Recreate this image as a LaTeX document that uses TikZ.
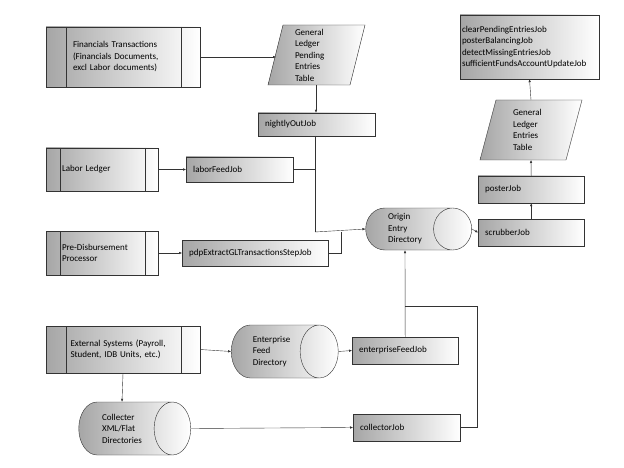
\documentclass[tikz,border=0pt]{standalone}
\usepackage{fontspec}
\setmainfont{Carlito}
\usetikzlibrary{shapes.geometric,arrows.meta}
\begin{document}
\begin{tikzpicture}[x=1pt,y=-1pt,
  fnt/.style={font=\fontsize{9}{11.5}\selectfont},
  base/.style={draw=black!80,left color=black!35,right color=white,fnt,inner sep=2pt},
  proc/.style={base,rectangle,text width=#1,align=left},
  job/.style={base,rectangle,align=left,anchor=west,inner xsep=7pt},
  cyl/.style={base,cylinder,shape aspect=1.1,align=left},
  arr/.style={draw=black!80,-{Latex[length=3pt,width=2.5pt]}},
  ln/.style={draw=black!80}]
\useasboundingbox (0,0) rectangle (624,468);
\fill[white] (0,0) rectangle (624,468);
% process boxes with side bars
\node[proc=100pt,minimum width=154pt,minimum height=60pt] (fin) at (123,57) {Financials Transactions\\(Financials Documents,\\excl Labor documents)};
\draw[black!80] (66,27)--(66,87) (181,27)--(181,87);
\node[proc=80pt,minimum width=112pt,minimum height=43pt] (lab) at (102,169.5) {Labor Ledger};
\draw[black!80] (60,148)--(60,191) (145,148)--(145,191);
\node[proc=80pt,minimum width=112pt,minimum height=44pt] (pre) at (102,253) {Pre-Disbursement\\Processor};
\draw[black!80] (60,231)--(60,275) (145,231)--(145,275);
\node[proc=105pt,minimum width=154pt,minimum height=47pt] (ext) at (123,349.5) {External Systems (Payroll,\\Student, IDB Units, etc.)};
\draw[black!80] (66,326)--(66,373) (181,326)--(181,373);
% tables (parallelograms)
\draw[base] (283,25) -- (365,25) -- (350,85) -- (268,85) -- cycle;
\node[fnt,align=left,text width=40pt,inner sep=0pt] (glpe) at (315,55) {General\\Ledger\\Pending\\Entries\\Table};
\draw[base] (496,100) -- (582,100) -- (566,160) -- (480,160) -- cycle;
\node[fnt,align=left,text width=36pt,inner sep=0pt] (gle) at (531,130) {General\\Ledger\\Entries\\Table};
% jobs
\node[job,text width=103pt,minimum height=23pt] (night) at (258,124.5) {nightlyOutJob};
\node[job,text width=93pt,minimum height=25pt] (labj) at (186,169.5) {laborFeedJob};
\node[job,text width=132pt,minimum height=26pt] (pdp) at (182,253) {pdpExtractGLTransactionsStepJob};
\node[job,text width=92pt,minimum height=27pt] (scrub) at (478,232.5) {scrubberJob};
\node[job,text width=92pt,minimum height=27pt] (poster) at (478,189.5) {posterJob};
\node[job,text width=92pt,minimum height=27pt] (entj) at (352,350.5) {enterpriseFeedJob};
\node[job,text width=93pt,minimum height=27pt] (colj) at (353,427.5) {collectorJob};
\node[base,rectangle,align=left,text width=135pt,minimum height=64pt] (top) at (529.5,47) {clearPendingEntriesJob\\posterBalancingJob\\detectMissingEntriesJob\\sufficientFundsAccountUpdateJob};
% cylinders
\node[cyl,minimum width=42pt,minimum height=106pt] (orig) at (405,229) {Origin\\Entry\\Directory\hspace{18pt}};
\node[cyl,minimum width=53pt,minimum height=107pt] (ent) at (271.5,351.5) {Enterprise\\Feed\\Directory\hspace{18pt}};
\node[cyl,minimum width=53pt,minimum height=112pt] (col) at (122,428.5) {Collecter\\XML/Flat\\Directories\hspace{18pt}};
% connectors
\draw[arr] (fin.east) -- (fin.east -| 276,0);
\draw[arr] (316,85) -- (night.north -| 316,0);
\draw[ln] (315,136) -- (315,232);
\draw[arr] (315,232) -- (orig.west);
\draw[ln] (labj.east) -- (315,169.5);
\draw[arr] (lab.east) -- (labj.west);
\draw[arr] (pre.east) -- (pdp.west);
\draw[ln] (pdp.east) -- (341,253) -- (341,232);
\draw[arr] (orig.east) -- (scrub.west);
\draw[arr] (scrub.north) -- (poster.south);
\draw[arr] (poster.north) -- (gle.south |- 0,160);
\draw[arr] (gle.north |- 0,100) -- (top.south);
\draw[arr] (ext.east) -- (ent.west);
\draw[arr] (ent.east) -- (entj.west);
\draw[arr] (ext.south) -- (col.north);
\draw[arr] (col.east) -- (colj.west);
\draw[arr] (entj.north) -- (orig.south);
\draw[ln] (colj.east) -- (477,427.5) -- (477,306) -- (405,306);
\end{tikzpicture}
\end{document}
